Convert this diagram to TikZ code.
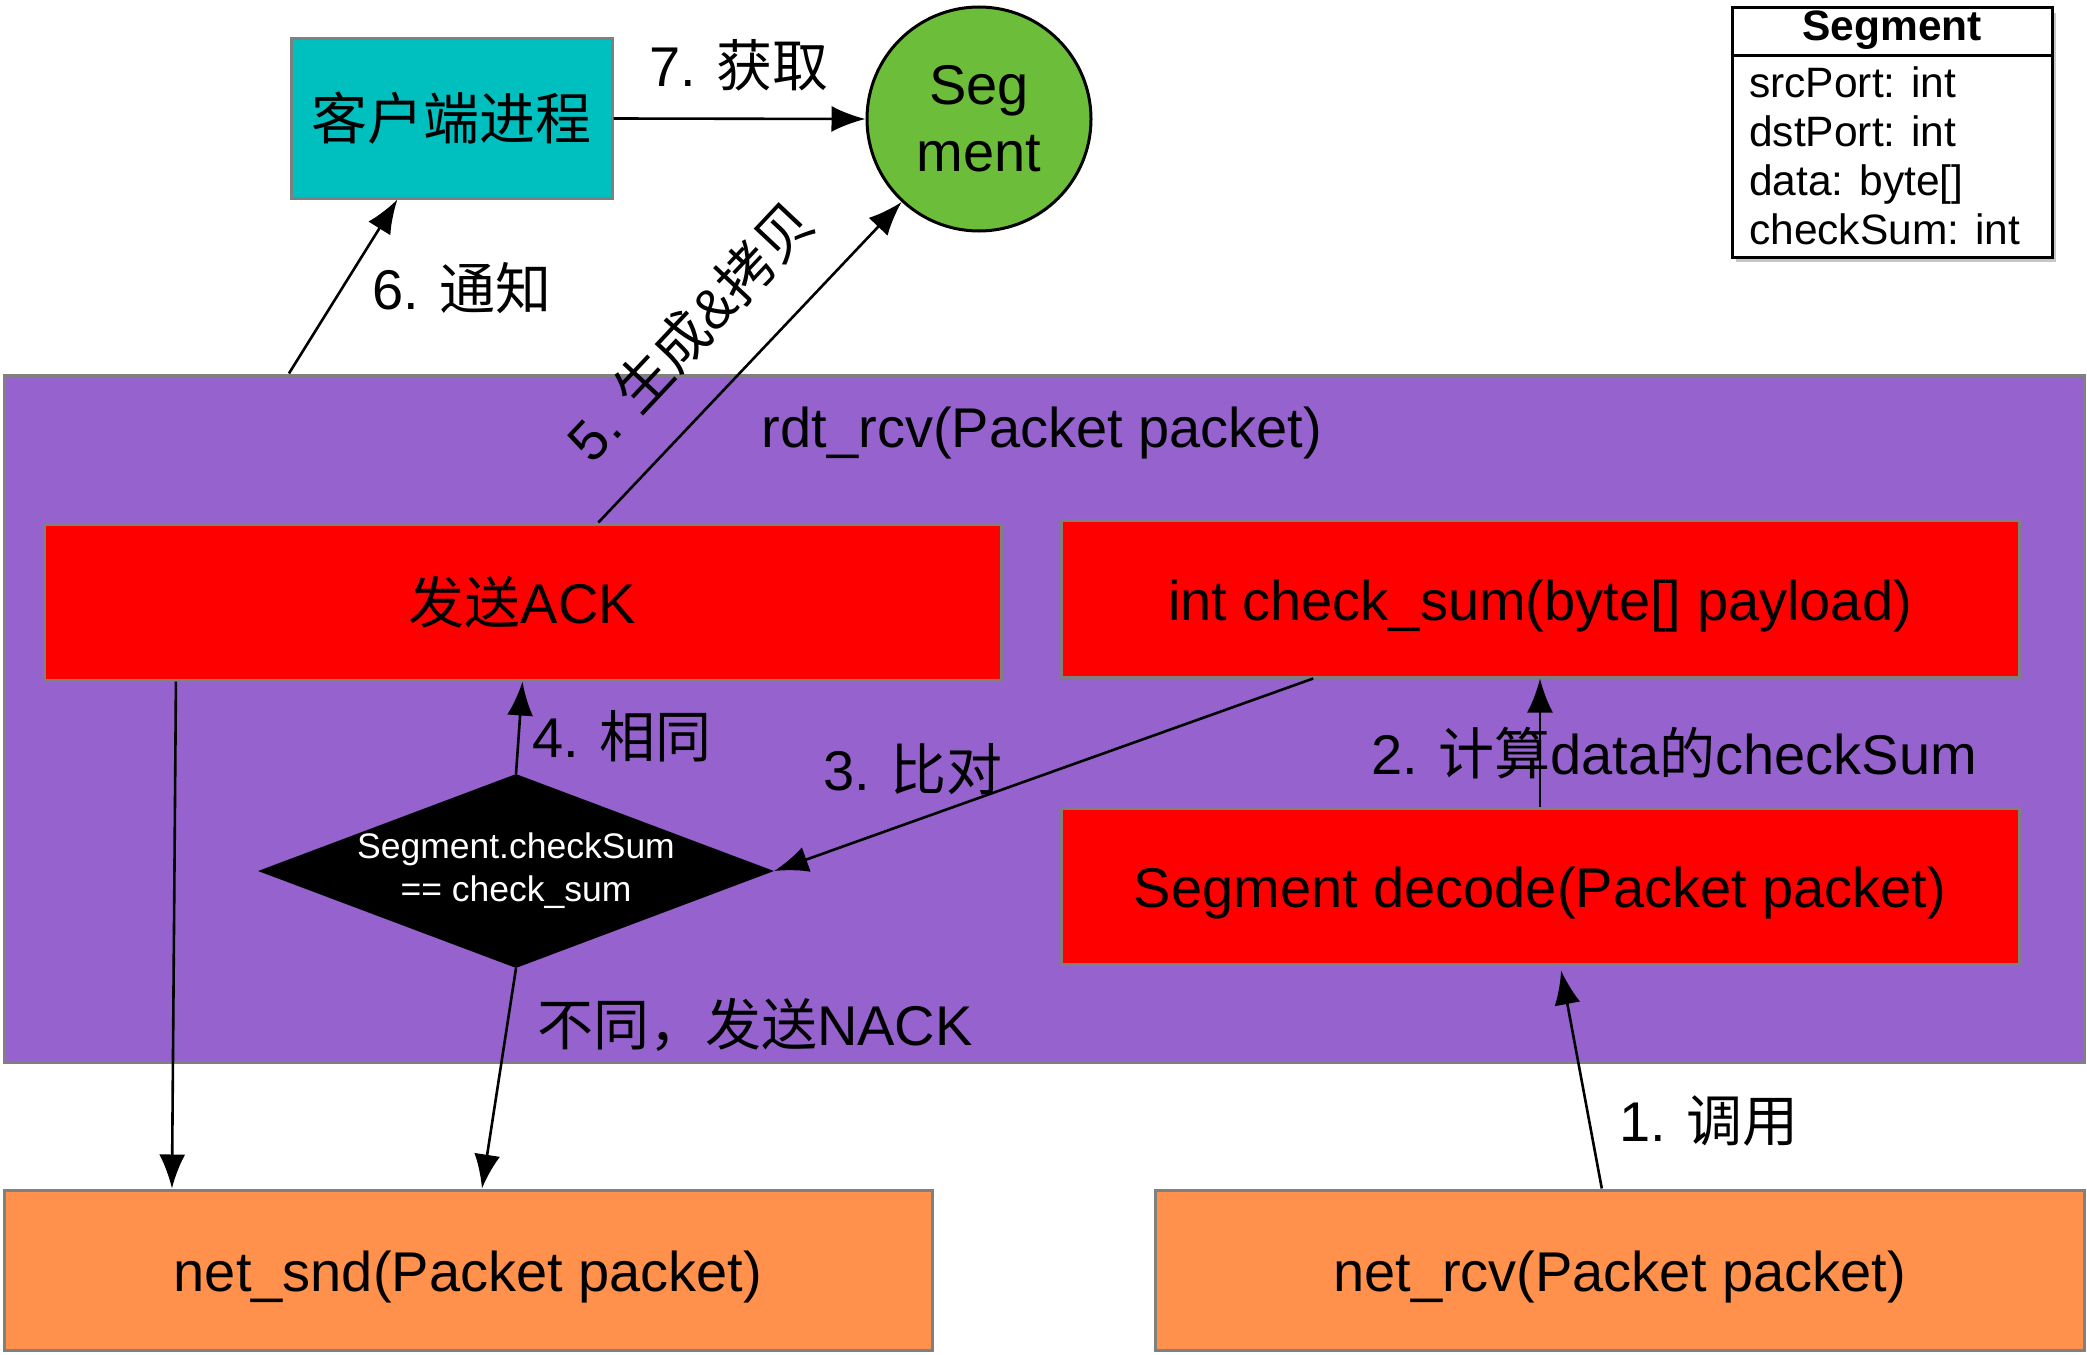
\documentclass[tikz,border=0pt]{standalone}
\usepackage{fontspec}
\setmainfont{Liberation Sans}
\newfontfamily\cjk{Noto Sans CJK SC}
\usepackage{tikz}
\usetikzlibrary{arrows.meta,shapes,positioning,shadows,calc}
\usepackage{xcolor}
\definecolor{rdtpurple}{RGB}{150,98,206}
\definecolor{netorange}{RGB}{255,145,77}
\definecolor{clientcyan}{RGB}{0,191,191}
\definecolor{seggreen}{RGB}{108,190,58}
\definecolor{boxgray}{RGB}{128,128,128}
\tikzstyle{arrow} = [line width=2.6pt,-{Latex[length=34pt,width=26pt]},color=black]
\tikzstyle{lbl} = [font=\fontsize{56}{67}\selectfont, inner sep=0pt]
\tikzstyle{flatbox} = [rectangle, draw=boxgray, line width=3pt, lbl]
\tikzstyle{lowtext} = [text height=46pt, text depth=3pt]

\begin{document}
\begin{tikzpicture}[x=1pt, y=-1pt]
\useasboundingbox (0,0) rectangle (2087,1354);

% rdt_rcv region
\node[flatbox, fill=rdtpurple, minimum width=2080, minimum height=687] (rdt) at (1044,718.5) {};
\node[lbl, lowtext] (rdtname) at (1042,426) {rdt\_rcv(Packet packet)};

% client process and Segment object
\node[flatbox, fill=clientcyan, minimum width=321, minimum height=159] (client) at (451.5,118.5) {{\cjk 客户端进程}};
\node[circle, draw, line width=3pt, fill=seggreen, minimum size=224, lbl, align=center] (seg) at (979,119) {Seg\\ment};

% functions inside rdt_rcv
\node[flatbox, fill=red, minimum width=957, minimum height=156] (ack) at (522.5,602) {{\cjk 发送}ACK};
\node[flatbox, fill=red, minimum width=958, minimum height=157, lowtext] (chk) at (1540,598.5) {int check\_sum(byte[] payload)};
\node[flatbox, fill=red, minimum width=958, minimum height=156, lowtext] (dec) at (1540,886) {Segment decode(Packet packet)};
\node[diamond, fill=black, text=white, inner sep=-5pt, aspect=2.66, minimum width=516, minimum height=194, align=center, font=\fontsize{35.5}{43}\selectfont] (cmp) at (516,871) {Segment.checkSum\\== check\_sum};

% network layer
\node[flatbox, fill=netorange, minimum width=928, minimum height=160, lowtext] (snd) at (468,1270) {net\_snd(Packet packet)};
\node[flatbox, fill=netorange, minimum width=929, minimum height=160, lowtext] (rcv) at (1619.5,1270) {net\_rcv(Packet packet)};

% UML box
\node[rectangle, draw, line width=3pt, fill=white, drop shadow={shadow xshift=4pt, shadow yshift=-5pt, opacity=0.45}, minimum width=320, minimum height=249] (uml) at (1892,132.5) {};
\draw[line width=3pt] ($(uml.north west)+(0,49)$) -- ($(uml.north east)+(0,49)$);
\node[font=\fontsize{42.5}{49}\selectfont\bfseries, inner sep=0pt] (umlhead) at (1892,30) {Segment};
\node[font=\fontsize{42.5}{49}\selectfont, inner sep=0pt, align=left, anchor=north west] (umlattr) at (1749,67) {srcPort: int\\dstPort: int\\data: byte[]\\checkSum: int};

% step labels
\node[lbl] (l7) at (739,65) {7. {\cjk 获取}};
\node[lbl] (l6) at (462,288) {6. {\cjk 通知}};
\node[lbl, rotate=46.8] (l5) at (690,331) {5. {\cjk 生成}\&{\cjk 拷贝}};
\node[lbl] (l4) at (622,736) {4. {\cjk 相同}};
\node[lbl] (l3) at (913,769) {3. {\cjk 比对}};
\node[lbl] (l2) at (1674,753) {2. {\cjk 计算}data{\cjk 的}checkSum};
\node[lbl] (lnack) at (755,1025) {{\cjk 不同，发送}NACK};
\node[lbl] (l1) at (1709,1121) {1. {\cjk 调用}};

% arrows
\draw[arrow] ($(rdt.north west)!0.1375!(rdt.north east)$) -- ($(client.south west)!0.333!(client.south east)$);
\draw[arrow] (client.east) -- (seg.west);
\draw[arrow] ($(ack.north west)!0.579!(ack.north east)$) -- (seg.227);
\draw[arrow] (cmp.north) -- (ack.south);
\draw[arrow] ($(chk.south west)!0.264!(chk.south east)$) -- (cmp.east);
\draw[arrow] (dec.north) -- (chk.south);
\draw[arrow, shorten >=5pt] ($(rcv.north west)!0.481!(rcv.north east)$) -- ($(dec.south west)!0.521!(dec.south east)$);
\draw[arrow] ($(ack.south west)!0.139!(ack.south east)$) -- ($(snd.north west)!0.182!(snd.north east)$);
\draw[arrow] (cmp.south) -- ($(snd.north west)!0.515!(snd.north east)$);
\end{tikzpicture}
\end{document}
